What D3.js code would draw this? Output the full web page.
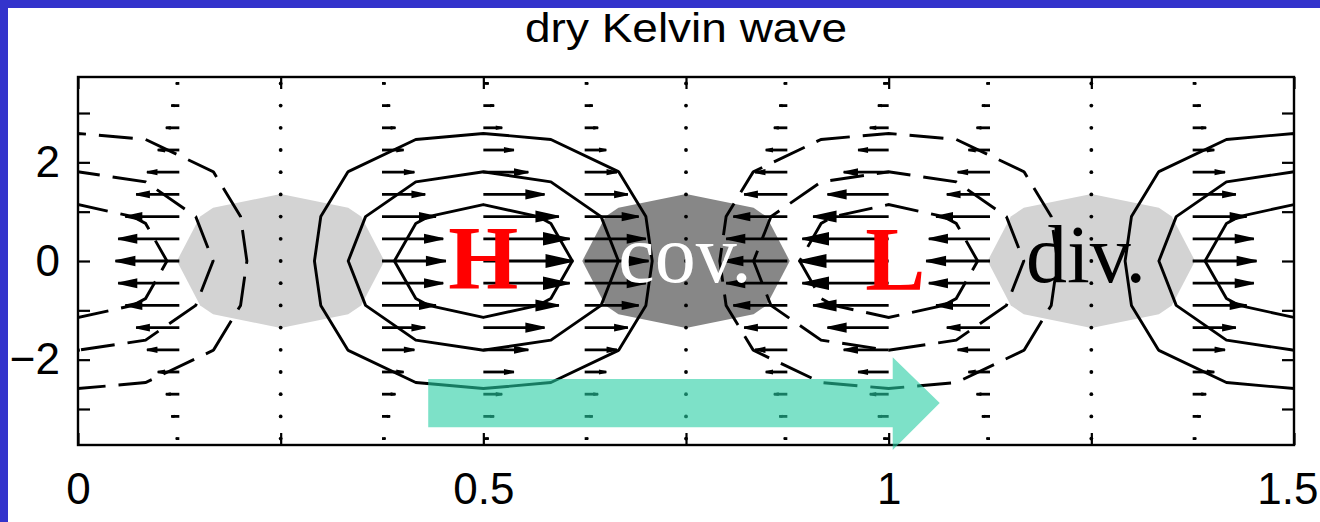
<!DOCTYPE html>
<html><head><meta charset="utf-8">
<script src="https://cdn.jsdelivr.net/npm/d3@7"></script>
<style>html,body{margin:0;padding:0;background:#fff;} svg{display:block;}</style>
</head><body>
<svg id="chart" width="1320" height="522"></svg>
<script>
// ---------------- data ----------------
const chartTitle = "dry Kelvin wave";
const xTicks = [0, 0.25, 0.5, 0.75, 1, 1.25, 1.5];
const xTickLabels = ["0", "", "0.5", "", "1", "", "1.5"];
const yTicks = [-3, -2, -1, 0, 1, 2, 3];
const yTickLabels = ["", "\u22122", "", "0", "", "2", ""];

// wind vectors (zonal wind only), base points of the quiver grid
const quiverX = [0, 0.125, 0.25, 0.375, 0.5, 0.625, 0.75, 0.875, 1, 1.125, 1.25, 1.375, 1.5];
const quiverY = [3.6, 3.15, 2.7, 2.25, 1.8, 1.35, 0.9, 0.45, 0, -0.45, -0.9, -1.35, -1.8, -2.25, -2.7, -3.15, -3.6];
const quiverU = [
  [-0.06,-0.04,0,0.04,0.06,0.04,0,-0.04,-0.06,-0.04,0,0.04,0.06],
  [-0.12,-0.09,0,0.09,0.12,0.09,0,-0.09,-0.12,-0.09,0,0.09,0.12],
  [-0.21,-0.15,0,0.15,0.21,0.15,0,-0.15,-0.21,-0.15,0,0.15,0.21],
  [-0.34,-0.24,0,0.24,0.34,0.24,0,-0.24,-0.34,-0.24,0,0.24,0.34],
  [-0.50,-0.36,0,0.36,0.50,0.36,0,-0.36,-0.50,-0.36,0,0.36,0.50],
  [-0.68,-0.48,0,0.48,0.68,0.48,0,-0.48,-0.68,-0.48,0,0.48,0.68],
  [-0.84,-0.60,0,0.60,0.84,0.60,0,-0.60,-0.84,-0.60,0,0.60,0.84],
  [-0.96,-0.68,0,0.68,0.96,0.68,0,-0.68,-0.96,-0.68,0,0.68,0.96],
  [-1.00,-0.71,0,0.71,1.00,0.71,0,-0.71,-1.00,-0.71,0,0.71,1.00],
  [-0.96,-0.68,0,0.68,0.96,0.68,0,-0.68,-0.96,-0.68,0,0.68,0.96],
  [-0.84,-0.60,0,0.60,0.84,0.60,0,-0.60,-0.84,-0.60,0,0.60,0.84],
  [-0.68,-0.48,0,0.48,0.68,0.48,0,-0.48,-0.68,-0.48,0,0.48,0.68],
  [-0.50,-0.36,0,0.36,0.50,0.36,0,-0.36,-0.50,-0.36,0,0.36,0.50],
  [-0.34,-0.24,0,0.24,0.34,0.24,0,-0.24,-0.34,-0.24,0,0.24,0.34],
  [-0.21,-0.15,0,0.15,0.21,0.15,0,-0.15,-0.21,-0.15,0,0.15,0.21],
  [-0.12,-0.09,0,0.09,0.12,0.09,0,-0.09,-0.12,-0.09,0,0.09,0.12],
  [-0.06,-0.04,0,0.04,0.06,0.04,0,-0.04,-0.06,-0.04,0,0.04,0.06]
];
const arrowScale = 0.111; // x-units of arrow length per unit wind

// geopotential field on the contour grid (x step 1/12, y step 0.9, rows from y=3.6 down)
const gridX0 = 0, gridDx = 1 / 12, gridY0 = 3.6, gridDy = 0.9, gridNx = 19, gridNy = 9;
const phiGrid = [
  [-0.064,-0.055,-0.032,0,0.032,0.055,0.064,0.055,0.032,0,-0.032,-0.055,-0.064,-0.055,-0.032,0,0.032,0.055,0.064],
  [-0.213,-0.184,-0.107,0,0.107,0.184,0.213,0.184,0.107,0,-0.107,-0.184,-0.213,-0.184,-0.107,0,0.107,0.184,0.213],
  [-0.503,-0.436,-0.252,0,0.252,0.436,0.503,0.436,0.252,0,-0.252,-0.436,-0.503,-0.436,-0.252,0,0.252,0.436,0.503],
  [-0.842,-0.729,-0.421,0,0.421,0.729,0.842,0.729,0.421,0,-0.421,-0.729,-0.842,-0.729,-0.421,0,0.421,0.729,0.842],
  [-1,-0.866,-0.5,0,0.5,0.866,1,0.866,0.5,0,-0.5,-0.866,-1,-0.866,-0.5,0,0.5,0.866,1],
  [-0.842,-0.729,-0.421,0,0.421,0.729,0.842,0.729,0.421,0,-0.421,-0.729,-0.842,-0.729,-0.421,0,0.421,0.729,0.842],
  [-0.503,-0.436,-0.252,0,0.252,0.436,0.503,0.436,0.252,0,-0.252,-0.436,-0.503,-0.436,-0.252,0,0.252,0.436,0.503],
  [-0.213,-0.184,-0.107,0,0.107,0.184,0.213,0.184,0.107,0,-0.107,-0.184,-0.213,-0.184,-0.107,0,0.107,0.184,0.213],
  [-0.064,-0.055,-0.032,0,0.032,0.055,0.064,0.055,0.032,0,-0.032,-0.055,-0.064,-0.055,-0.032,0,0.032,0.055,0.064]
];
const phiHighLevels = [0.25, 0.5, 0.75];   // solid
const phiLowLevels = [0.25, 0.5, 0.75];    // dashed (negative values)

// divergence field (positive = divergence, negative = convergence)
const divGrid = [
  [0,0.032,0.055,0.064,0.055,0.032,0,-0.032,-0.055,-0.064,-0.055,-0.032,0,0.032,0.055,0.064,0.055,0.032,0],
  [0,0.107,0.184,0.213,0.184,0.107,0,-0.107,-0.184,-0.213,-0.184,-0.107,0,0.107,0.184,0.213,0.184,0.107,0],
  [0,0.252,0.436,0.503,0.436,0.252,0,-0.252,-0.436,-0.503,-0.436,-0.252,0,0.252,0.436,0.503,0.436,0.252,0],
  [0,0.421,0.729,0.842,0.729,0.421,0,-0.421,-0.729,-0.842,-0.729,-0.421,0,0.421,0.729,0.842,0.729,0.421,0],
  [0,0.5,0.866,1,0.866,0.5,0,-0.5,-0.866,-1,-0.866,-0.5,0,0.5,0.866,1,0.866,0.5,0],
  [0,0.421,0.729,0.842,0.729,0.421,0,-0.421,-0.729,-0.842,-0.729,-0.421,0,0.421,0.729,0.842,0.729,0.421,0],
  [0,0.252,0.436,0.503,0.436,0.252,0,-0.252,-0.436,-0.503,-0.436,-0.252,0,0.252,0.436,0.503,0.436,0.252,0],
  [0,0.107,0.184,0.213,0.184,0.107,0,-0.107,-0.184,-0.213,-0.184,-0.107,0,0.107,0.184,0.213,0.184,0.107,0],
  [0,0.032,0.055,0.064,0.055,0.032,0,-0.032,-0.055,-0.064,-0.055,-0.032,0,0.032,0.055,0.064,0.055,0.032,0]
];
const divShadeLevel = 0.67;

// text annotations
const labels = [
  {text: "H",    x: 0.5,   y: -0.57, anchor: "middle", color: "#ff0000", size: 90, weight: "bold"},
  {text: "cov.", x: 0.6665, y: -0.43, anchor: "start", color: "#ffffff", size: 82, weight: "normal"},
  {text: "L",    x: 1.008, y: -0.59, anchor: "middle", color: "#ff0000", size: 90, weight: "bold"},
  {text: "div.", x: 1.1695, y: -0.43, anchor: "start", color: "#000000", size: 82, weight: "normal"}
];
// propagation arrow (data coordinates)
const moveArrow = {xStart: 0.432, xHead: 1.005, xTip: 1.063, yTop: -2.39, yBottom: -3.37, yHeadTop: -1.95, yHeadBottom: -3.83, yTip: -2.88};

// ---------------- drawing ----------------
const svg = d3.select("#chart");
const W = 1320, H = 522;
const plot = {left: 78, right: 1294, top: 77, bottom: 445};
const xScale = d3.scaleLinear().domain([0, 1.5]).range([plot.left, plot.right]);
const yScale = d3.scaleLinear().domain([-3.73, 3.73]).range([plot.bottom, plot.top]);

svg.append("rect").attr("x", 0).attr("y", 0).attr("width", W).attr("height", H).attr("fill", "#3333cc");
svg.append("rect").attr("x", 8).attr("y", 8).attr("width", W - 8).attr("height", H - 8).attr("fill", "#ffffff");

svg.append("defs").append("clipPath").attr("id", "plotClip")
  .append("rect").attr("x", plot.left).attr("y", plot.top)
  .attr("width", plot.right - plot.left).attr("height", plot.bottom - plot.top);

const gPlot = svg.append("g").attr("clip-path", "url(#plotClip)");

const gx = X => xScale(gridX0 + (X - 0.5) * gridDx);
const gy = Y => yScale(gridY0 - (Y - 0.5) * gridDy);
const ringLine = d3.line().x(p => gx(p[0])).y(p => gy(p[1]));

function contourRings(grid, level, sign) {
  const flat = grid.flat().map(v => v * sign);
  const c = d3.contours().size([gridNx, gridNy]).thresholds([level])(flat)[0];
  const rings = [];
  c.coordinates.forEach(poly => poly.forEach(r => rings.push(r)));
  return rings;
}

// shading
[{sign: 1, color: "#d3d3d3"}, {sign: -1, color: "#878787"}].forEach(s => {
  contourRings(divGrid, divShadeLevel, s.sign).forEach(r => {
    gPlot.append("path").attr("d", ringLine(r) + "Z").attr("fill", s.color).attr("stroke", "none");
  });
});

// quiver
const gQ = gPlot.append("g");
quiverY.forEach((yv, j) => quiverX.forEach((xv, i) => {
  const u = quiverU[j][i] * arrowScale;
  const x0 = xScale(xv), y0 = yScale(yv), x1 = xScale(xv + u);
  const len = x1 - x0;
  if (Math.abs(len) < 2) {
    gQ.append("circle").attr("cx", x0).attr("cy", y0).attr("r", 1.9).attr("fill", "#000");
  } else {
    gQ.append("line").attr("x1", x0).attr("y1", y0).attr("x2", x1).attr("y2", y0)
      .attr("stroke", "#000").attr("stroke-width", 2.8);
    const h = 0.3 * len, w = 0.22 * Math.abs(h);
    gQ.append("path").attr("d", `M${x1 - h},${y0 - w}L${x1},${y0}L${x1 - h},${y0 + w}Z`)
      .attr("fill", "#000").attr("stroke", "#000").attr("stroke-width", 1.6).attr("stroke-linejoin", "miter");
  }
}));

// geopotential contours
phiHighLevels.forEach(lv => contourRings(phiGrid, lv, 1).forEach(r => {
  gPlot.append("path").attr("d", ringLine(r) + "Z").attr("fill", "none")
    .attr("stroke", "#000").attr("stroke-width", 2.9).attr("stroke-linejoin", "round");
}));
phiLowLevels.forEach(lv => contourRings(phiGrid, lv, -1).forEach(r => {
  gPlot.append("path").attr("d", ringLine(r) + "Z").attr("fill", "none")
    .attr("stroke", "#000").attr("stroke-width", 2.9).attr("stroke-dasharray", "34,13");
}));

// axes box and ticks
const axisFont = "'Liberation Sans', Arial, Helvetica, sans-serif";
const axL = svg.append("g").attr("transform", `translate(${plot.left},0)`)
  .call(d3.axisLeft(yScale).tickValues(yTicks).tickSizeInner(-12).tickSizeOuter(0).tickPadding(18)
    .tickFormat((d, i) => yTickLabels[i]));
const axR = svg.append("g").attr("transform", `translate(${plot.right},0)`)
  .call(d3.axisRight(yScale).tickValues(yTicks).tickSizeInner(-12).tickSizeOuter(0).tickFormat(""));
const axB = svg.append("g").attr("transform", `translate(0,${plot.bottom})`)
  .call(d3.axisBottom(xScale).tickValues(xTicks).tickSizeInner(-12).tickSizeOuter(0).tickPadding(28)
    .tickFormat((d, i) => xTickLabels[i]));
const axT = svg.append("g").attr("transform", `translate(0,${plot.top})`)
  .call(d3.axisTop(xScale).tickValues(xTicks).tickSizeInner(-12).tickSizeOuter(0).tickFormat(""));
[axL, axR, axB, axT].forEach(a => {
  a.select(".domain").remove();
  a.selectAll(".tick line").attr("stroke", "#000").attr("stroke-width", 2.2);
  a.selectAll("text").attr("fill", "#000").attr("font-family", axisFont).attr("font-size", 44);
});
// keep the last x label inside the page edge
axB.selectAll(".tick text").filter(d => d === 1.5).attr("text-anchor", "end").attr("x", 1318 - plot.right);
svg.append("rect").attr("x", plot.left).attr("y", plot.top)
  .attr("width", plot.right - plot.left).attr("height", plot.bottom - plot.top)
  .attr("fill", "none").attr("stroke", "#000").attr("stroke-width", 2.4);

// text labels
labels.forEach(l => {
  svg.append("text").attr("x", xScale(l.x)).attr("y", yScale(l.y))
    .attr("text-anchor", l.anchor).attr("fill", l.color)
    .attr("font-family", "'Liberation Serif', 'Times New Roman', serif")
    .attr("font-weight", l.weight).attr("font-size", l.size).text(l.text);
});

// propagation arrow
const m = moveArrow;
const arrowPts = [
  [m.xStart, m.yTop], [m.xHead, m.yTop], [m.xHead, m.yHeadTop], [m.xTip, m.yTip],
  [m.xHead, m.yHeadBottom], [m.xHead, m.yBottom], [m.xStart, m.yBottom]
];
svg.append("path")
  .attr("d", d3.line().x(p => xScale(p[0])).y(p => yScale(p[1]))(arrowPts) + "Z")
  .attr("fill", "#26cda3").attr("fill-opacity", 0.6).attr("stroke", "none");

// title
svg.append("text").attr("x", (plot.left + plot.right) / 2).attr("y", 42)
  .attr("text-anchor", "middle").attr("font-family", axisFont).attr("font-size", 41)
  .attr("textLength", 322).attr("lengthAdjust", "spacingAndGlyphs")
  .attr("fill", "#000").text(chartTitle);
</script>
</body></html>
